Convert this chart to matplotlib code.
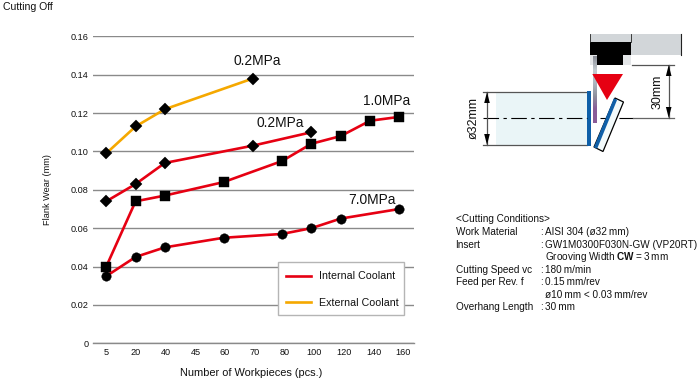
import numpy as np
import matplotlib
matplotlib.use("Agg")
import matplotlib.pyplot as plt
from matplotlib.lines import Line2D
from matplotlib.patches import Polygon, Rectangle
from matplotlib.colors import LinearSegmentedColormap

plt.rcParams['font.family'] = ['Liberation Sans', 'DejaVu Sans']
plt.rcParams['mathtext.fontset'] = 'custom'
plt.rcParams['mathtext.rm'] = 'Liberation Sans'
plt.rcParams['mathtext.bf'] = 'Liberation Sans:bold'

# ---- data ----
categories = ['5', '20', '40', '45', '60', '70', '80', '100', '120', '140', '160']
y_ticks = [0, 0.02, 0.04, 0.06, 0.08, 0.10, 0.12, 0.14, 0.16]
y_labels = ['0', '0.02', '0.04', '0.06', '0.08', '0.10', '0.12', '0.14', '0.16']

ext_02_x = ['5', '20', '40', '70']
ext_02_y = [0.099, 0.113, 0.122, 0.138]
int_02_x = ['5', '20', '40', '70', '100']
int_02_y = [0.074, 0.083, 0.094, 0.103, 0.110]
int_10_x = ['5', '20', '40', '60', '80', '100', '120', '140', '160']
int_10_y = [0.040, 0.074, 0.077, 0.084, 0.095, 0.104, 0.108, 0.116, 0.118]
int_70_x = ['5', '20', '40', '60', '80', '100', '120', '160']
int_70_y = [0.035, 0.045, 0.050, 0.055, 0.057, 0.060, 0.065, 0.070]

RED = '#e60012'
ORANGE = '#f5a800'
W, H = 700, 379

fig = plt.figure(figsize=(W / 100, H / 100), dpi=100, facecolor='white')

# ---- chart ----
L, R, T, B = 92.5, 414, 36.3, 343.3
ax = fig.add_axes([L / W, 1 - B / H, (R - L) / W, (B - T) / H])
ax.set_xlim(-0.47, 10.5)
ax.set_ylim(0, 0.16)
pos = {c: i for i, c in enumerate(categories)}


def idx(cats):
    return [pos[c] for c in cats]


ax.set_yticks(y_ticks, y_labels)
ax.set_xticks(np.arange(len(categories)) * 1.0136, categories)
ax.tick_params(axis='both', length=0, labelsize=6.6, colors='#111111')
ax.tick_params(axis='x', pad=3.5)
ax.tick_params(axis='y', pad=3)
ax.grid(axis='y', color='#8a8a8a', lw=1)
ax.set_axisbelow(True)
for s in ['top', 'right', 'left']:
    ax.spines[s].set_visible(False)
ax.spines['bottom'].set_color('#8a8a8a')
ax.spines['bottom'].set_linewidth(1)

for x, y, c, m, ms in [
    (ext_02_x, ext_02_y, ORANGE, 'D', 6.2),
    (int_02_x, int_02_y, RED, 'D', 6.2),
    (int_10_x, int_10_y, RED, 's', 7.2),
    (int_70_x, int_70_y, RED, 'o', 6.8),
]:
    ax.plot(idx(x), y, color=c, lw=1.9, marker=m, ms=ms, mfc='black', mec='black',
            mew=0.3, clip_on=False, zorder=3)

ax.set_ylabel('Flank Wear (mm)', fontsize=6.6, color='#111111', va='center')
ax.set_xlabel('Number of Workpieces (pcs.)', fontsize=7.9, color='#111111', va='center')
ax.xaxis.set_label_coords((251 - L) / (R - L), -(373 - B) / (B - T))
ax.yaxis.set_label_coords((47 - L) / (R - L), (B - 190) / (B - T))

# legend box and frameless legend
ax.add_patch(Rectangle(((278 - L) / (R - L), (B - 315) / (B - T)),
                       126 / (R - L), 53 / (B - T), transform=ax.transAxes,
                       fc='white', ec='#b5b5b5', lw=1, zorder=4, clip_on=False))
handles = [Line2D([], [], color=RED, lw=1.9), Line2D([], [], color=ORANGE, lw=1.9)]
leg = ax.legend(handles, ['Internal Coolant', 'External Coolant'],
                loc='center left', bbox_to_anchor=((286 - L) / (R - L), (B - 289.5) / (B - T)),
                borderaxespad=0, fontsize=7.7, frameon=False, handlelength=2.3,
                handletextpad=0.75, labelspacing=1.5, borderpad=0)
leg.set_zorder(5)
for t in leg.get_texts():
    t.set_color('#111111')

# ---- overlay in image pixels: captions and schematic ----
ov = fig.add_axes([0, 0, 1, 1], facecolor='none')
ov.set_axis_off()

ov.text(3, 7.5, 'Cutting Off', fontsize=7.6, va='center', ha='left', color='#111111')
for x, y, s in [(257.5, 61, '0.2MPa'), (387, 101, '1.0MPa'),
                (280.5, 123, '0.2MPa'), (372, 200, '7.0MPa')]:
    ov.text(x, y, s, fontsize=9.9, ha='center', va='center', color='#111111')

# tool holder
ov.add_patch(Rectangle((589.5, 34), 92, 21, fc='#d2d6d9', ec='none'))
ov.plot([681, 681], [34, 55], color='#222222', lw=0.8)
ov.plot([589.7, 589.7], [34, 42], color='#222222', lw=0.6)
ov.plot([630.7, 630.7], [34, 42], color='#222222', lw=0.6)
ov.add_patch(Rectangle((589.7, 42), 41, 12.7, fc='black', ec='none'))
ov.add_patch(Rectangle((589.7, 54.7), 40.8, 10, fc='#e4e6e8', ec='none'))
ov.add_patch(Rectangle((597, 54.7), 26, 10.3, fc='black', ec='none'))

# blade with gradient
cm = LinearSegmentedColormap.from_list('b', ['#8a8d96', '#c4cbd0', '#aeb9c2', '#8f8f9c', '#8a5c98', '#8a5c98'])
ov.imshow(np.linspace(0, 1, 64)[:, None], extent=(592.7, 596.7, 123, 56), cmap=cm,
          aspect='auto', zorder=2)

# workpiece
ov.add_patch(Rectangle((496, 92), 91, 53, fc='#eaf5f7', ec='none', zorder=1))
ov.plot([483, 587], [92, 92], color='#555555', lw=0.9, zorder=2)
ov.plot([483, 587], [145, 145], color='#555555', lw=0.9, zorder=2)
ov.add_patch(Rectangle((587, 91), 4.2, 55, fc='#0f5fa8', ec='none', zorder=3))

# centre lines
ov.plot([483, 587], [118.3, 118.3], color='black', lw=0.8, dashes=(14, 4, 3, 4), zorder=3)
ov.plot([600, 633], [118.3, 118.3], color='black', lw=0.8, dashes=(14, 3), zorder=3)
ov.plot([633, 674], [118.3, 118.3], color='#666666', lw=0.9, zorder=3)
ov.plot([631.7, 674], [65, 65], color='#555555', lw=0.9, zorder=3)

# red triangle
ov.add_patch(Polygon([(592.3, 74), (623, 74), (607, 100)], fc=RED, ec='none', zorder=4))

# tilted insert
ov.add_patch(Polygon([(615, 98), (623.5, 102), (603, 151.5), (594, 147)],
                     fc='#f3fafb', ec='black', lw=0.9, zorder=4))
ov.plot([615.5, 595.5], [99, 148], color='#0f5fa8', lw=2.6, solid_capstyle='butt', zorder=5)

# dimensions
for x, y0, y1 in [(487, 92, 145), (668.7, 65, 118)]:
    ov.plot([x, x], [y0, y1], color='#555555', lw=0.9, zorder=3)
    ov.add_patch(Polygon([(x, y0), (x - 2.8, y0 + 11), (x + 2.8, y0 + 11)], fc='black', ec='none', zorder=4))
    ov.add_patch(Polygon([(x, y1), (x - 2.8, y1 - 11), (x + 2.8, y1 - 11)], fc='black', ec='none', zorder=4))
ov.text(474, 118, 'ø32mm', rotation=90, fontsize=9, ha='center', va='center', color='#111111', zorder=4)
ov.text(658, 92, '30mm', rotation=90, fontsize=9, ha='center', va='center', color='#111111', zorder=4)

# cutting conditions
rows = [
    (219.5, '<Cutting Conditions>', None, None),
    (232, 'Work Material', ':', 'AISI 304 (ø32\u2009mm)'),
    (245, 'Insert', ':', 'GW1M0300F030N-GW (VP20RT)'),
    (257, None, None, 'Grooving Width $\\mathbf{CW}$\u2009=\u20093\u2009mm'),
    (270, 'Cutting Speed vc', ':', '180\u2009m/min'),
    (282, 'Feed per Rev. f', ':', '0.15\u2009mm/rev'),
    (294.5, None, None, 'ø10\u2009mm < 0.03\u2009mm/rev'),
    (307, 'Overhang Length', ':', '30\u2009mm'),
]
for y, a, b, c in rows:
    if a:
        ov.text(455.5, y, a, fontsize=7.2, va='center', ha='left', color='#111111')
    if b:
        ov.text(540, y, b, fontsize=7.2, va='center', ha='left', color='#111111')
    if c:
        ov.text(545, y, c, fontsize=7.2, va='center', ha='left', color='#111111')

ov.set_xlim(0, W)
ov.set_ylim(H, 0)

fig.savefig('out.png', dpi=100)
